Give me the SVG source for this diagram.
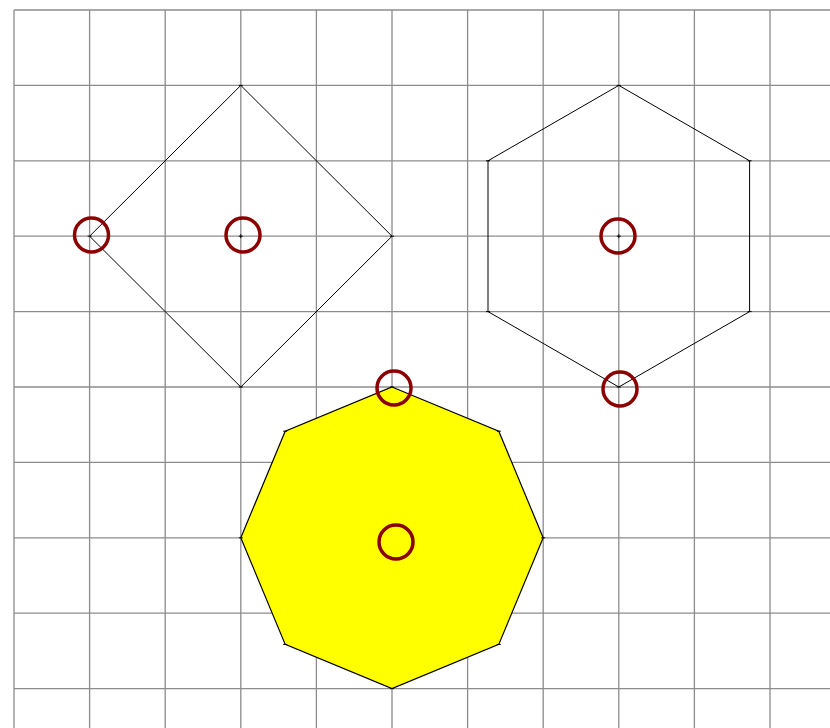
<svg xmlns="http://www.w3.org/2000/svg" width="830" height="728" viewBox="0 0 830 728">
<style>
.grid line{stroke:#8c8c8c;stroke-width:1.3}
.shape{stroke:#000;stroke-width:1;fill:none}
.mark{stroke:#8b0000;stroke-width:3.5;fill:none}
.v{stroke:#000;stroke-width:1}
</style>
<rect width="830" height="728" fill="#fff"/>
<g class="grid">
<line x1="14" y1="10" x2="14" y2="728"/>
<line x1="89.6" y1="10" x2="89.6" y2="728"/>
<line x1="165.2" y1="10" x2="165.2" y2="728"/>
<line x1="240.8" y1="10" x2="240.8" y2="728"/>
<line x1="316.4" y1="10" x2="316.4" y2="728"/>
<line x1="392" y1="10" x2="392" y2="728"/>
<line x1="467.6" y1="10" x2="467.6" y2="728"/>
<line x1="543.2" y1="10" x2="543.2" y2="728"/>
<line x1="618.8" y1="10" x2="618.8" y2="728"/>
<line x1="694.4" y1="10" x2="694.4" y2="728"/>
<line x1="770" y1="10" x2="770" y2="728"/>
<line x1="14" y1="10" x2="830" y2="10"/>
<line x1="14" y1="85.4" x2="830" y2="85.4"/>
<line x1="14" y1="160.8" x2="830" y2="160.8"/>
<line x1="14" y1="236.2" x2="830" y2="236.2"/>
<line x1="14" y1="311.6" x2="830" y2="311.6"/>
<line x1="14" y1="387" x2="830" y2="387"/>
<line x1="14" y1="462.4" x2="830" y2="462.4"/>
<line x1="14" y1="537.8" x2="830" y2="537.8"/>
<line x1="14" y1="613.2" x2="830" y2="613.2"/>
<line x1="14" y1="688.6" x2="830" y2="688.6"/>
</g>
<g id="diamond">
<polygon class="shape" points="240.8,85.4 392,236.2 240.8,387 89.6,236.2"/>
<path class="v" d="M238.8,85.4h4M390,236.2h4M238.8,387h4M87.6,236.2h4M238.8,236.2h4M240.8,234.2v4"/>
</g>
<g id="hexagon">
<polygon class="shape" points="618.8,85.4 749.6,160.8 749.6,311.6 618.8,387 488,311.6 488,160.8"/>
<path class="v" d="M616.8,85.4h4M747.6,160.8h4M747.6,311.6h4M616.8,387h4M486,311.6h4M486,160.8h4M616.8,236.2h4M618.8,234.2v4"/>
</g>
<g id="octagon">
<polygon points="392,387 498.8,431.2 543.2,537.8 498.8,644.4 392,688.6 285.2,644.4 240.8,537.8 285.2,431.2" fill="#ffff00" stroke="#000" stroke-width="1.2"/>
<path class="v" d="M390,387h4M496.8,431.2h4M541.2,537.8h4M496.8,644.4h4M390,688.6h4M283.2,644.4h4M238.8,537.8h4M283.2,431.2h4"/>
</g>
<g id="markers">
<circle class="mark" cx="91.5" cy="235" r="17"/>
<circle class="mark" cx="243" cy="235" r="17"/>
<circle class="mark" cx="618" cy="236" r="17"/>
<circle class="mark" cx="394" cy="388" r="17"/>
<circle class="mark" cx="620" cy="389" r="17"/>
<circle class="mark" cx="396" cy="542" r="17"/>
</g>
</svg>
